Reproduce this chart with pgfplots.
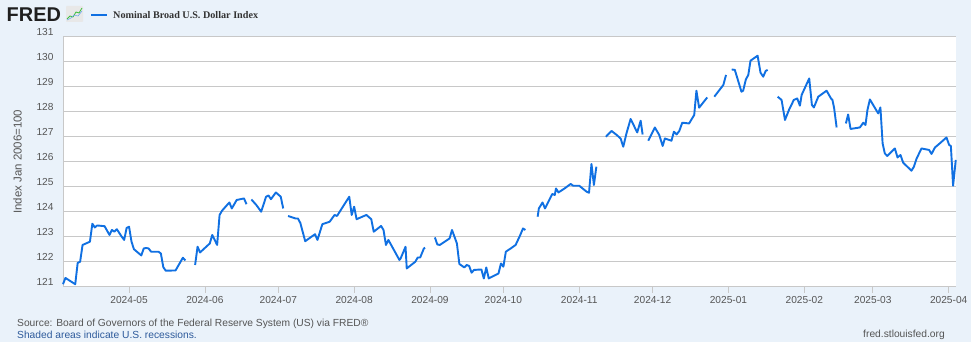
\documentclass[border=0pt]{standalone}
\usepackage{fontspec}
\setmainfont{Liberation Sans}
\newfontfamily\serifb{Liberation Serif}
\usepackage{pgfplots}
\pgfplotsset{compat=1.18}
\definecolor{bgc}{RGB}{234,242,250}
\definecolor{fredline}{RGB}{16,112,226}
\definecolor{gridc}{RGB}{200,200,200}
\definecolor{txt}{RGB}{85,85,85}
\definecolor{shadeblue}{RGB}{45,90,155}
\begin{document}
\begin{tikzpicture}[x=1bp,y=1bp]
\fill[bgc] (0,0) rectangle (971,342);
% header
\node[anchor=west,inner sep=0,font=\fontsize{20}{20}\selectfont\bfseries,text=black!88] at (6.5,327.5) {FRED};
\fill[gray!18,rounded corners=1] (66,320) rectangle (83,336);
\draw[green!50!gray,line width=0.8] (67,323) -- (70,326) -- (73,325) -- (76,330) -- (79,329) -- (82,334);
\draw[fredline!60,line width=0.6] (67,322) -- (71,324) -- (74,327) -- (78,326) -- (82,331);
\draw[fredline,line width=2] (91,326.7) -- (107,326.7);
\node[anchor=west,inner sep=0,font=\serifb\fontsize{10.2}{10.2}\selectfont\bfseries,text=black!80] at (113,326.7) {Nominal Broad U.S. Dollar Index};
% footer
\node[anchor=west,inner sep=0,font=\fontsize{10.3}{10.3}\selectfont,text=txt] at (17,18.5) {Source: Board of Governors of the Federal Reserve System (US) via FRED\textregistered};
\node[anchor=west,inner sep=0,font=\fontsize{10.3}{10.3}\selectfont,text=shadeblue] at (17,7.5) {Shaded areas indicate U.S. recessions.};
\node[anchor=east,inner sep=0,font=\fontsize{10.3}{10.3}\selectfont,text=txt] at (945,7.5) {fred.stlouisfed.org};
\begin{axis}[
  at={(63bp,55.3bp)}, anchor=south west,
  width=893bp, height=250bp, scale only axis,
  xmin=0, xmax=365, ymin=121, ymax=131,
  axis background/.style={fill=white},
  axis lines*=left,
  axis line style={draw=gridc, line width=1bp},
  ymajorgrids, grid style={gridc, line width=1.1bp},
  ytick={121,122,...,131},
  xtick={27,58,88,119,150,180,211,241,272,303,331,362},
  xticklabels={2024-05,2024-06,2024-07,2024-08,2024-09,2024-10,2024-11,2024-12,2025-01,2025-02,2025-03,2025-04},
  /pgf/number format/assume math mode=true,
  ticklabel style={font=\fontsize{10.2}{10.2}\selectfont, text=txt},
  yticklabel style={yshift=4.5bp},
  xtick style={draw=gridc, line width=0.8bp},
  ytick style={draw=none},
  tick align=outside, major tick length=6bp,
  ylabel={Index Jan 2006=100},
  ylabel style={font=\fontsize{11.5}{11.5}\selectfont, text=txt, at={(axis description cs:-0.051,0.5)}, anchor=center},
  unbounded coords=jump,
  clip=false,
]
\addplot[fredline, line width=1.9bp, line join=round] coordinates {
(0,121.1)(1,121.35)(5,121.1)(6,121.95)(7,122.0)(8,122.67)(11,122.8)(12,123.52)(13,123.37)(14,123.45)(17,123.42)(19,123.07)(20,123.27)(21,123.2)(22,123.3)(24,123.0)(25,122.87)(26,123.35)(27,123.4)(28,122.8)(29,122.5)(32,122.25)(33,122.53)(34,122.55)(35,122.53)(36,122.4)(39,122.4)(40,122.33)(41,121.78)(42,121.64)(46,121.65)(49,122.16)(50,122.05)
(51,nan)
(54,121.87)(55,122.6)(56,122.37)(60,122.73)(61,123.07)(63,122.67)(64,123.87)(65,124.04)(68,124.37)(69,124.13)(71,124.47)(74,124.53)(75,124.3)
(76,nan)
(77,124.49)(79,124.27)(81,124.0)(83,124.6)(84,124.65)(85,124.5)(87,124.77)(89,124.6)(90,124.13)
(91,nan)
(92,123.83)(95,123.73)(96,123.73)(97,123.55)(99,122.82)(103,123.1)(104,122.87)(106,123.5)(109,123.6)(111,123.87)(112,123.83)(117,124.6)(118,123.87)(119,124.2)(120,123.7)(124,123.87)(126,123.7)(127,123.2)(130,123.43)(131,123.27)(132,122.67)(133,122.87)(137.5,122.07)(138,122.13)(140,122.6)(140.5,121.73)(144,122.0)(145,122.17)(146,122.17)(147.5,122.53)(148,122.56)
(150,nan)
(152,122.97)(153,122.69)(154,122.67)(158,122.93)(159,123.27)(161,122.73)(162,121.91)(164,121.77)(165,121.87)(166,121.83)(167,121.56)(168,121.67)(171,121.69)(172,121.33)(173,121.77)(174,121.33)(178,121.53)(179,121.93)(180,121.8)(181,122.4)(183,122.53)(185,122.67)(187,123.09)(188,123.33)(189,123.27)
(191,nan)
(194,123.8)(194.5,124.13)(196,124.37)(197,124.13)(200,124.71)(201,124.67)(201.5,124.93)(202.5,124.77)(205,124.93)(207.5,125.11)(208.5,125.04)(211,125.04)(214,124.8)(215,124.76)(216,125.91)(217,125.07)(218,125.8)
(220,nan)
(221.9,127.0)(224.2,127.23)(226.3,127.07)(227.9,126.93)(229.0,126.6)(230.3,127.13)(232.0,127.71)(234.7,127.17)(236.1,127.64)(236.9,127.09)
(238,nan)
(239.2,126.84)(241.9,127.37)(243.7,127.07)(245.1,126.63)(246.0,126.93)(248.7,126.84)(249.7,127.2)(250.8,127.09)(251.9,127.23)(253.1,127.56)(255.9,127.53)(258.0,127.87)(258.9,128.84)(260.0,128.16)(263.3,128.57)
(265,nan)
(266.2,128.6)(269.9,129.07)(271.0,129.47)
(272,nan)
(273.3,129.69)(274.6,129.67)(277.3,128.8)(278.0,128.84)(279.1,129.29)(280.1,129.47)(281.0,130.04)(283.9,130.24)(285.1,129.56)(286.2,129.4)(287.2,129.63)(288.0,129.67)
(290,nan)
(292.1,128.6)(293.7,128.47)(295.1,127.67)(296.8,128.09)(298.7,128.47)(300.1,128.53)(301.2,128.24)(301.9,128.67)(305.0,129.33)(306.1,128.27)(306.9,128.17)(308.7,128.6)(312.1,128.84)(313.9,128.53)(314.5,128.47)(315.2,128.13)(316.2,127.37)
(318,nan)
(320.0,127.53)(320.9,127.89)(321.9,127.31)(325.7,127.37)(327.1,127.56)(328.0,127.47)(328.8,128.07)(329.8,128.49)(333.2,127.93)(334.1,128.17)(335.0,126.73)(335.9,126.33)(336.9,126.23)(340.0,126.53)(341.1,126.17)(342.3,126.27)(343.4,125.96)(346.8,125.64)(347.8,125.8)(348.9,126.13)(350.9,126.53)(354.0,126.47)(355.0,126.31)(356.4,126.57)(358.1,126.71)(361.1,126.97)(362.2,126.67)(362.9,126.63)(363.8,125.04)(364.9,126.07)
};
\end{axis}
\pgfresetboundingbox
\useasboundingbox (0,0) rectangle (971,342);
\end{tikzpicture}
\end{document}
